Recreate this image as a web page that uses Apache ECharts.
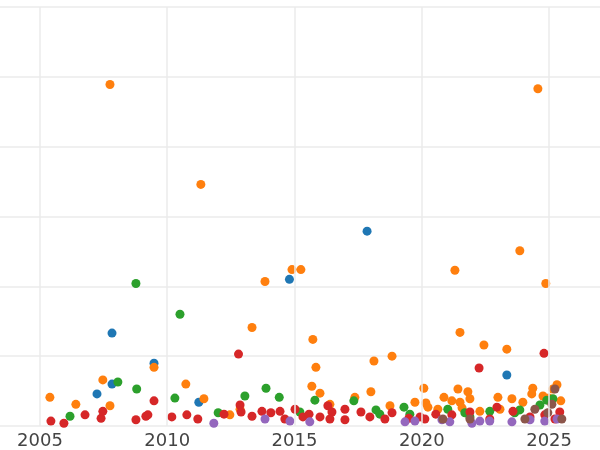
<!DOCTYPE html>
<html><head><meta charset="utf-8">
<script src="https://cdn.jsdelivr.net/npm/echarts@6/dist/echarts.min.js"></script>
<style>html,body{margin:0;padding:0;background:#fff}#c{width:600px;height:450px}</style>
</head><body><div id="c"></div>
<script>
const xTicks=[2005,2010,2015,2020,2025];
const blue=[[2017.85,2.79],[2014.8,2.1],[2007.83,1.33],[2009.48,0.9],[2007.83,0.6],[2007.24,0.46],[2011.24,0.34],[2023.34,0.73]];
const orange=[[2007.75,4.89],[2011.32,3.46],[2014.9,2.24],[2015.25,2.24],[2013.84,2.07],[2021.3,2.23],[2023.85,2.51],[2024.56,4.83],[2024.87,2.04],[2013.33,1.41],[2015.72,1.24],[2021.5,1.34],[2022.44,1.16],[2023.34,1.1],[2018.12,0.93],[2018.83,1.0],[2015.84,0.84],[2009.48,0.84],[2007.47,0.66],[2010.73,0.6],[2005.39,0.41],[2006.41,0.31],[2007.75,0.29],[2011.44,0.39],[2015.68,0.57],[2016.0,0.47],[2017.37,0.41],[2018.0,0.49],[2020.08,0.54],[2020.16,0.33],[2020.87,0.41],[2021.42,0.53],[2021.81,0.49],[2021.18,0.36],[2021.5,0.34],[2022.99,0.41],[2023.54,0.39],[2023.97,0.34],[2024.36,0.54],[2024.32,0.46],[2024.76,0.43],[2025.31,0.59],[2025.15,0.53],[2025.46,0.36],[2024.99,0.4],[2018.75,0.29],[2012.46,0.16],[2012.86,0.24],[2016.39,0.31],[2019.73,0.34],[2020.24,0.27],[2022.28,0.21],[2023.07,0.24],[2020.63,0.24],[2021.58,0.26],[2021.89,0.39]];
const green=[[2008.77,2.04],[2010.5,1.6],[2008.8,0.53],[2008.06,0.63],[2010.3,0.4],[2006.18,0.14],[2013.05,0.43],[2013.88,0.54],[2014.4,0.41],[2012.0,0.19],[2015.8,0.37],[2017.33,0.36],[2018.2,0.23],[2019.3,0.27],[2019.53,0.17],[2021.02,0.24],[2021.69,0.19],[2022.67,0.21],[2023.65,0.19],[2024.64,0.3],[2024.91,0.37],[2025.15,0.39],[2023.85,0.23],[2021.89,0.13],[2018.35,0.17],[2015.21,0.2]];
const red=[[2012.8,1.03],[2022.25,0.83],[2024.8,1.04],[2009.48,0.36],[2005.43,0.07],[2005.94,0.04],[2006.77,0.16],[2007.4,0.11],[2007.47,0.21],[2008.77,0.09],[2009.16,0.14],[2009.24,0.16],[2010.18,0.13],[2010.77,0.16],[2011.2,0.1],[2012.23,0.17],[2012.86,0.3],[2012.9,0.2],[2013.33,0.14],[2013.72,0.21],[2014.07,0.19],[2014.43,0.21],[2015.02,0.24],[2015.33,0.13],[2015.57,0.17],[2016.0,0.13],[2016.31,0.29],[2016.47,0.2],[2016.98,0.24],[2017.61,0.2],[2017.96,0.13],[2018.83,0.19],[2019.49,0.11],[2019.93,0.13],[2020.55,0.17],[2021.18,0.16],[2021.89,0.2],[2022.95,0.27],[2023.58,0.21],[2024.25,0.13],[2024.83,0.16],[2025.42,0.2],[2025.23,0.1],[2022.67,0.1],[2020.12,0.1],[2016.98,0.09],[2018.55,0.1],[2016.39,0.1],[2014.62,0.1]];
const purple=[[2011.83,0.04],[2014.82,0.07],[2015.6,0.06],[2019.34,0.06],[2019.73,0.07],[2020.79,0.09],[2021.1,0.06],[2021.97,0.04],[2022.28,0.07],[2022.67,0.07],[2023.54,0.06],[2024.25,0.09],[2024.83,0.07],[2025.31,0.1],[2013.84,0.1]];
const brown=[[2025.23,0.53],[2020.83,0.1],[2021.89,0.1],[2024.05,0.1],[2024.44,0.24],[2024.95,0.19],[2025.11,0.31],[2025.5,0.1]];
const groups=[[blue,'#1f77b4'],[orange,'#ff7f0e'],[green,'#2ca02c'],[red,'#d62728'],[purple,'#9467bd'],[brown,'#8c564b']];
const chart=echarts.init(document.getElementById('c'));
const series=groups.map(g=>({type:'scatter',data:g[0],symbolSize:9,z:3,itemStyle:{color:g[1],opacity:1}}));
series.push({type:'line',data:[],z:1,silent:true,
  markLine:{silent:true,symbol:'none',label:{show:false},animation:false,
    lineStyle:{color:'#ebebeb',width:1.5,type:'solid'},
    data:xTicks.map(v=>({xAxis:v}))}});
chart.setOption({
  animation:false,
  grid:{left:0,right:0,top:7,bottom:23,containLabel:false},
  xAxis:{type:'value',min:2003.43,max:2027,
    axisLine:{show:false},axisTick:{show:false,customValues:xTicks},
    axisLabel:{customValues:xTicks,formatter:v=>String(v),fontSize:18,color:'#444',fontFamily:'DejaVu Sans',margin:6},
    splitLine:{show:false}},
  yAxis:{type:'value',min:0,max:6,interval:1,
    axisLine:{show:false},axisTick:{show:false},axisLabel:{show:false},
    splitLine:{show:true,lineStyle:{color:'#ebebeb',width:1.5}}},
  series:series
});
</script></body></html>
